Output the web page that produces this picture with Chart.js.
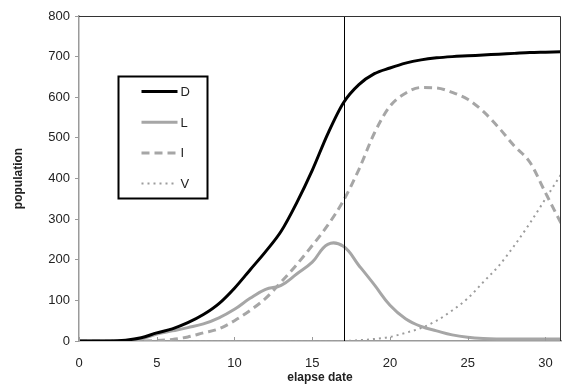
<!DOCTYPE html>
<html>
<head>
<meta charset="utf-8">
<script src="https://cdn.jsdelivr.net/npm/chart.js@4"></script>
<style>
  html, body { margin: 0; padding: 0; background: #fff; }
  #wrap { width: 564px; height: 385px; }
</style>
</head>
<body>
<div id="wrap"><canvas id="chart"></canvas></div>
<script>
'use strict';

// ── Data ───────────────────────────────────────────────────────
const DAYS = [0, 1, 2, 3, 4, 5, 6, 7, 8, 9, 10, 11, 12, 13, 14, 15, 16, 17, 18, 19, 20, 21, 22, 23, 24, 25, 26, 27, 28, 29, 30, 31];
const D = [0, 0, 0, 2, 8, 20, 30, 45, 65, 92, 130, 175, 220, 270, 340, 420, 510, 586, 631, 658, 672, 684, 692, 697, 700, 702, 704, 706, 708, 710, 711, 712];
const L = [0, 0, 0, 1, 5, 17, 25, 33, 42, 57, 78, 105, 127, 137, 165, 194, 238, 233, 186, 138, 88, 55, 36, 25, 15, 9, 6, 5, 5, 5, 5, 5];
const I = [0, 0, 0, 0, 0, 1, 4, 10, 20, 30, 50, 75, 105, 145, 188, 235, 285, 345, 422, 512, 578, 610, 624, 623, 612, 595, 565, 525, 480, 440, 365, 290];
const V = [0, 0, 0, 0, 0, 0, 0, 0, 0, 0, 0, 0, 0, 0, 0, 0, 0, 0, 2, 5, 10, 20, 32, 50, 75, 105, 145, 185, 235, 290, 350, 410];
const X_TICKS = [0, 5, 10, 15, 20, 25, 30];
const MARKER_DAY = 17;

const TEXT = '#222';
const AXIS_GRAY = '#9a9a9a';
const FONT = "'Liberation Sans', Arial, sans-serif";

Chart.defaults.font.family = FONT;
Chart.defaults.font.size = 13;
Chart.defaults.color = TEXT;
Chart.defaults.animation = false;

function series(label, values, color, width, dash, extra = {}) {
  return {
    label,
    data: values.map((v, i) => ({ x: DAYS[i], y: v })),
    borderColor: color,
    backgroundColor: color,
    borderWidth: width,
    borderDash: dash,
    pointRadius: 0,
    fill: false,
    cubicInterpolationMode: 'monotone',
    ...extra,
  };
}

// ── Frame, marker line, inner ticks and legend box ─────────────
const decor = {
  id: 'decor',
  afterDatasetsDraw(chart) {
    const { ctx, chartArea: a, scales } = chart;
    ctx.save();
    // marker line
    const mx = Math.round(scales.x.getPixelForValue(MARKER_DAY)) + 1.5;
    ctx.strokeStyle = '#000';
    ctx.lineWidth = 1;
    ctx.beginPath();
    ctx.moveTo(mx, a.top);
    ctx.lineTo(mx, a.bottom);
    ctx.stroke();
    // top and right frame
    ctx.strokeStyle = '#333';
    ctx.beginPath();
    ctx.moveTo(a.left, a.top + 0.5);
    ctx.lineTo(a.right - 0.5, a.top + 0.5);
    ctx.lineTo(a.right - 0.5, a.bottom);
    ctx.stroke();
    // x ticks pointing up
    ctx.strokeStyle = AXIS_GRAY;
    scales.x.ticks.forEach(t => {
      const px = Math.round(scales.x.getPixelForValue(t.value)) + 0.5;
      ctx.beginPath();
      ctx.moveTo(px, a.bottom);
      ctx.lineTo(px, a.bottom - 4);
      ctx.stroke();
    });
    // legend box
    const bx = 118.5, by = 76.5, bw = 89, bh = 122;
    ctx.fillStyle = '#fff';
    ctx.fillRect(bx, by, bw, bh);
    ctx.strokeStyle = '#000';
    ctx.lineWidth = 2;
    ctx.strokeRect(bx, by, bw, bh);
    ctx.font = '13px ' + FONT;
    ctx.textBaseline = 'middle';
    ctx.textAlign = 'left';
    chart.data.datasets.forEach((ds, i) => {
      const ry = by + 15 + i * 30.7;
      ctx.strokeStyle = ds.borderColor;
      ctx.lineWidth = ds.borderWidth;
      ctx.setLineDash(ds.borderDash || []);
      ctx.beginPath();
      ctx.moveTo(bx + 23, ry);
      ctx.lineTo(bx + 59, ry);
      ctx.stroke();
      ctx.setLineDash([]);
      ctx.fillStyle = TEXT;
      ctx.fillText(ds.label, bx + 62, ry + 1);
    });
    ctx.restore();
  },
};

new Chart(document.getElementById('chart'), {
  type: 'line',
  data: {
    datasets: [
      series('D', D, '#000000', 3, []),
      series('L', L, '#a6a6a6', 3, [], { cubicInterpolationMode: 'default', tension: 0.4 }),
      series('I', I, '#a6a6a6', 3, [8, 5]),
      series('V', V, '#9c9c9c', 2, [2, 4]),
    ],
  },
  options: {
    responsive: true,
    maintainAspectRatio: false,
    layout: { padding: { top: 16, right: 3, left: 0, bottom: 0 } },
    plugins: { legend: { display: false }, tooltip: { enabled: false } },
    scales: {
      x: {
        type: 'linear',
        min: 0,
        max: 31,
        border: { color: AXIS_GRAY, width: 1.5 },
        grid: { display: false },
        afterBuildTicks: s => { s.ticks = X_TICKS.map(v => ({ value: v })); },
        ticks: { padding: 7, color: TEXT, maxRotation: 0, font: { size: 13 } },
        title: { display: true, text: 'elapse date', font: { size: 12, weight: 'bold' }, color: TEXT, padding: { top: 3, bottom: 0 } },
        afterFit: s => { s.height = 44; s.paddingRight = 0; },
      },
      y: {
        min: 0,
        max: 800,
        border: { color: AXIS_GRAY, width: 1.5 },
        grid: { drawOnChartArea: false, drawTicks: true, tickLength: 4, color: AXIS_GRAY },
        ticks: { stepSize: 100, padding: 5, color: TEXT, font: { size: 13 } },
        title: { display: true, text: 'population', font: { size: 12, weight: 'bold' }, color: TEXT, padding: { top: 11, bottom: 12 } },
        afterFit: s => { s.width = 79; },
      },
    },
  },
  plugins: [decor],
});
</script>
</body>
</html>
